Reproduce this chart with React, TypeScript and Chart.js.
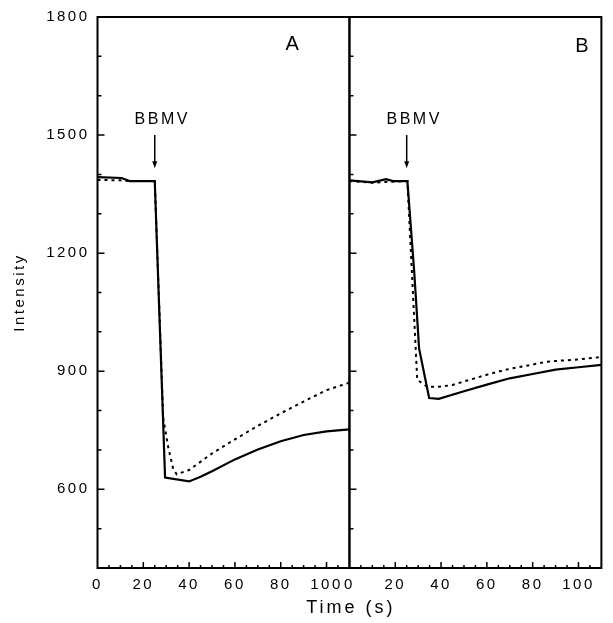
import React, { useEffect, useRef } from 'react';
import { Chart, registerables } from 'chart.js';

Chart.register(...registerables);

// Panel A – solid trace
const TIME_A_SOLID = [0, 10.5, 14, 25, 29.5, 40, 45, 50, 60, 70, 80, 90, 100, 110];
const INTENSITY_A_SOLID = [1393, 1391, 1383, 1383, 630, 620, 632, 646, 676, 701, 722, 738, 747, 752];

// Panel A – dotted trace
const TIME_A_DOT = [0, 10, 14, 25, 28.7, 30.9, 33.1, 34.6, 40, 50, 60, 70, 80, 90, 100, 110];
const INTENSITY_A_DOT = [1386, 1385, 1383, 1383, 781, 706, 651, 638, 649, 691, 727, 761, 793, 823, 852, 871];

// Panel B – solid trace
const TIME_B_SOLID = [0, 10, 16, 19, 25.3, 28.3, 30.4, 34.8, 39, 50, 60, 70, 80, 90, 100, 110];
const INTENSITY_B_SOLID = [1385, 1380, 1388, 1383, 1383, 1151, 958, 832, 830, 849, 866, 882, 893, 904, 910, 916];

// Panel B – dotted trace
const TIME_B_DOT = [0, 10, 16, 25.3, 29.6, 34.1, 40, 45, 50, 60, 65.7, 70, 80, 86, 90, 100, 110];
const INTENSITY_B_DOT = [1383, 1379, 1381, 1383, 878, 860, 861, 865, 874, 891, 900, 906, 917, 924, 926, 930, 936];

const X_TICKS = [0, 20, 40, 60, 80, 100];
const Y_TICKS = [600, 900, 1200, 1500, 1800];
const PANEL_LABELS = ['A', 'B'];
const PANEL_LABEL_T = [85, 101.5];
const PANEL_LABEL_V = [1730, 1725];
const MARKER_LABEL = 'BBMV';
const MARKER_TIME = 25;

const FONT = "'Liberation Sans', Arial, Helvetica, sans-serif";

function pts(t: number[], v: number[]) {
  return t.map((x, i) => ({ x, y: v[i] }));
}

const framePlugin = {
  id: 'frame',
  beforeUpdate(chart: any) {
    chart.ctx.letterSpacing = '2.5px';
  },
  beforeLayout(chart: any) {
    chart.ctx.letterSpacing = '2.5px';
  },
  beforeDraw(chart: any) {
    chart.ctx.letterSpacing = '2.5px';
  },
  afterDatasetsDraw(chart: any) {
    const { ctx, scales } = chart;
    const y = scales.y;
    const panels = [scales.xA, scales.xB];
    ctx.save();
    ctx.strokeStyle = '#000';
    ctx.fillStyle = '#000';
    panels.forEach((x: any, i: number) => {
      ctx.lineWidth = 2;
      ctx.strokeRect(x.left, y.top, x.right - x.left, y.bottom - y.top);
      ctx.lineWidth = 1.5;
      ctx.beginPath();
      for (let v = 500; v < 1800; v += 100) {
        const py = y.getPixelForValue(v);
        const len = (v - 600) % 300 === 0 ? 7 : 4;
        ctx.moveTo(x.left, py);
        ctx.lineTo(x.left + len, py);
      }
      for (let t = 5; t < 110; t += 5) {
        const px = x.getPixelForValue(t);
        const len = t % 20 === 0 ? 6 : 3;
        ctx.moveTo(px, y.bottom);
        ctx.lineTo(px, y.bottom - len);
      }
      ctx.stroke();

      // injection arrow
      const ax = x.getPixelForValue(MARKER_TIME);
      const aTop = y.getPixelForValue(1500);
      const aBot = y.getPixelForValue(1416);
      ctx.lineWidth = 1.5;
      ctx.beginPath();
      ctx.moveTo(ax, aTop);
      ctx.lineTo(ax, aBot - 5);
      ctx.stroke();
      ctx.beginPath();
      ctx.moveTo(ax - 2.5, aBot - 7);
      ctx.lineTo(ax + 2.5, aBot - 7);
      ctx.lineTo(ax, aBot);
      ctx.closePath();
      ctx.fill();

      ctx.textAlign = 'center';
      ctx.textBaseline = 'middle';
      ctx.letterSpacing = '2.5px';
      ctx.font = `16px ${FONT}`;
      ctx.fillText(MARKER_LABEL, ax + 7.5, y.getPixelForValue(1540));
      ctx.letterSpacing = '0px';
      ctx.font = `20px ${FONT}`;
      ctx.fillText(PANEL_LABELS[i], x.getPixelForValue(PANEL_LABEL_T[i]), y.getPixelForValue(PANEL_LABEL_V[i]));
    });
    ctx.textAlign = 'center';
    ctx.textBaseline = 'middle';
    ctx.font = `18px ${FONT}`;
    ctx.letterSpacing = '3px';
    const ca = chart.chartArea;
    ctx.fillText('Time (s)', (ca.left + ca.right) / 2 + 1.5, 608);
    ctx.restore();
  },
};

function xScale(stackWeight: number) {
  return {
    type: 'linear',
    position: 'bottom',
    stack: 'time',
    stackWeight,
    min: 0,
    max: 110,
    afterBuildTicks: (s: any) => {
      s.ticks = X_TICKS.map((v) => ({ value: v }));
    },
    afterFit: (s: any) => {
      s.height = 55;
    },
    ticks: {
      autoSkip: false,
      maxRotation: 0,
      padding: 8,
      color: '#000',
      font: { family: FONT, size: 15 },
      callback: (v: any) => String(v),
    },
    grid: { display: false, drawTicks: false },
    border: { display: false },
  };
}

export default function App() {
  const ref = useRef<HTMLCanvasElement | null>(null);
  useEffect(() => {
    document.body.style.margin = '0';
    const canvas = ref.current;
    if (!canvas) return;
    const line = (data: any, xAxisID: string, dotted: boolean) => ({
      data,
      xAxisID,
      yAxisID: 'y',
      borderColor: '#000',
      backgroundColor: '#000',
      borderWidth: dotted ? 2 : 2.2,
      borderDash: dotted ? [3, 4] : [],
      pointRadius: 0,
      tension: 0,
      fill: false,
    });
    const chart = new Chart(canvas, {
      type: 'line',
      data: {
        datasets: [
          line(pts(TIME_A_SOLID, INTENSITY_A_SOLID), 'xA', false),
          line(pts(TIME_A_DOT, INTENSITY_A_DOT), 'xA', true),
          line(pts(TIME_B_SOLID, INTENSITY_B_SOLID), 'xB', false),
          line(pts(TIME_B_DOT, INTENSITY_B_DOT), 'xB', true),
        ],
      },
      options: {
        animation: false,
        responsive: false,
        devicePixelRatio: 1,
        parsing: true,
        layout: { padding: { top: 13, right: 10, bottom: 0, left: 0 } },
        plugins: {
          legend: { display: false },
          tooltip: { enabled: false },
        },
        scales: {
          y: {
            type: 'linear',
            position: 'left',
            min: 400,
            max: 1800,
            afterBuildTicks: (s: any) => {
              s.ticks = Y_TICKS.map((v) => ({ value: v }));
            },
            afterFit: (s: any) => {
              s.width = 97.5;
            },
            ticks: {
              color: '#000',
              padding: 8,
              font: { family: FONT, size: 15 },
              callback: (v: any) => String(v),
            },
            grid: { display: false, drawTicks: false },
            border: { display: false },
            title: {
              display: true,
              text: 'Intensity',
              color: '#000',
              font: { family: FONT, size: 15 },
              padding: { top: 11, bottom: 0 },
            },
          },
          xA: xScale(1),
          xB: xScale(1),
        } as any,
      },
      plugins: [framePlugin],
    } as any);
    return () => chart.destroy();
  }, []);
  return (
    <canvas
      ref={ref}
      width={613}
      height={623}
      style={{ display: 'block', width: 613, height: 623 }}
    />
  );
}
